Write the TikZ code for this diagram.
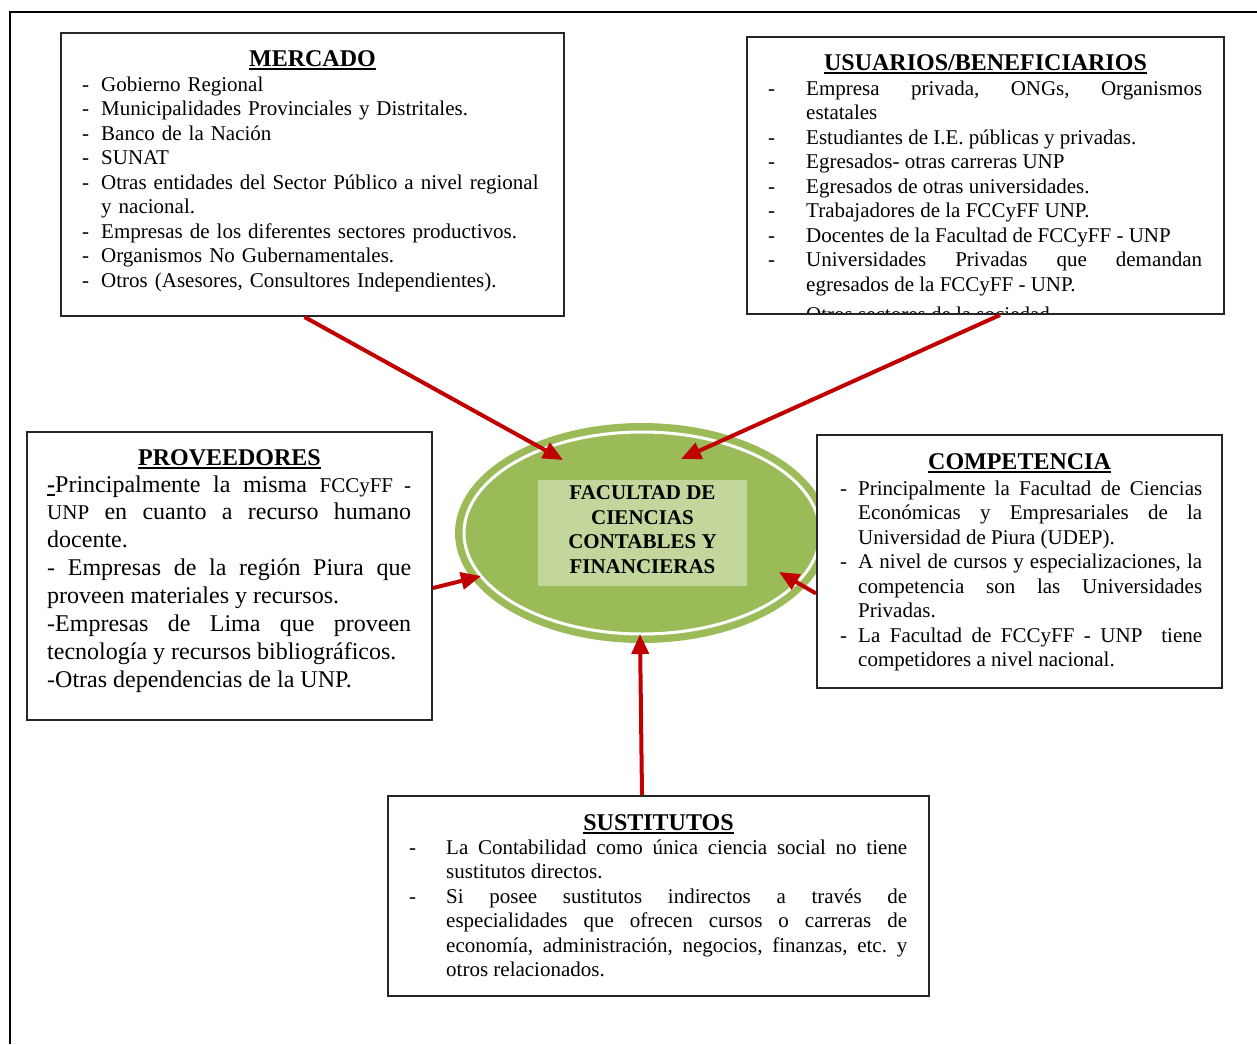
\documentclass[tikz,border=0pt]{standalone}
\usepackage{fontspec}
\setmainfont{Liberation Serif}
\usetikzlibrary{arrows.meta,shapes.geometric}
\definecolor{arrred}{HTML}{C00000}
\definecolor{ellgreen}{HTML}{9BBB59}
\definecolor{lblgreen}{HTML}{C3D69B}
\newcommand\itm[2]{\hangindent=#1\hangafter=1\makebox[#1][l]{-}#2\par}
\newcommand\ttlul[1]{\setbox0\hbox{#1}\rlap{\rule[-4pt]{\wd0}{2pt}}\box0}
\newcommand\bodyfont{\fontsize{21}{24.5}\selectfont\hyphenpenalty=10000\relax\exhyphenpenalty=10000\relax\frenchspacing}
\newcommand\provfont{\fontsize{24}{27.9}\selectfont\hyphenpenalty=10000\relax\exhyphenpenalty=10000\relax\frenchspacing}
\newcommand\smallprov{\fontsize{21}{27.9}\selectfont}
\begin{document}
\begin{tikzpicture}[x=1pt,y=-1pt,
  box/.style={draw=black!85,fill=white,line width=2pt,inner sep=0pt,rectangle},
  ttl/.style={anchor=base,font=\fontsize{24}{28}\selectfont\bfseries,inner sep=0pt},
  lst/.style={anchor=base west,inner sep=0pt,font=\bodyfont},
  arr/.style={draw=arrred,line width=4pt,-{Triangle[length=20pt,width=17pt]}}
]
\useasboundingbox (0,0) rectangle (1257,1044);
% outer frame
\draw[line width=2.5pt] (10,1044) -- (10,12) -- (1257,12);

% central ellipse
\node[ellipse, fill=ellgreen, minimum width=374pt, minimum height=220pt, inner sep=0pt] (fac) at (642,533) {};
\draw[white, line width=3pt] (fac.center) ellipse [x radius=178, y radius=101];
\node[fill=lblgreen, minimum width=209pt, minimum height=106pt, inner sep=0pt] (lblbox) at (642.5,533) {};
\node[font=\fontsize{21}{24.5}\selectfont\bfseries, align=center, inner sep=0pt] (lbl) at (642.5,529.5) {FACULTAD DE\\CIENCIAS\\CONTABLES Y\\FINANCIERAS};

% boxes
\node[box, minimum width=503pt, minimum height=283pt] (mercado) at (312.5,174.5) {};
\node[box, minimum width=477pt, minimum height=277pt] (usuarios) at (985.5,175.5) {};
\node[box, minimum width=405pt, minimum height=288pt] (proveedores) at (229.5,576) {};
\node[box, minimum width=405pt, minimum height=253pt] (competencia) at (1019.5,561.5) {};
\node[box, minimum width=541pt, minimum height=200pt] (sustitutos) at (658.5,896) {};

% titles
\node[ttl] (mercadottl) at (312.5,66) {\ttlul{MERCADO}};
\node[ttl] (usuariosttl) at (985.5,70) {\ttlul{USUARIOS/BENEFICIARIOS}};
\node[ttl] (proveedoresttl) at (229.5,465) {\ttlul{PROVEEDORES}};
\node[ttl] (competenciattl) at (1019.5,469) {\ttlul{COMPETENCIA}};
\node[ttl] (sustitutosttl) at (658.5,830) {\ttlul{SUSTITUTOS}};

% texts
\node[lst, text width=470pt, align=left] (mercadotxt) at (82,91) {%
\itm{19pt}{Gobierno Regional}%
\itm{19pt}{Municipalidades Provinciales y Distritales.}%
\itm{19pt}{Banco de la Nación}%
\itm{19pt}{SUNAT}%
\itm{19pt}{Otras entidades del Sector Público a nivel regional\newline y nacional.}%
\itm{19pt}{Empresas de los diferentes sectores productivos.}%
\itm{19pt}{Organismos No Gubernamentales.}%
\itm{19pt}{Otros (Asesores, Consultores Independientes).}};

\begin{scope}
\clip (748,38) rectangle (1223,312);
\node[lst, text width=434pt, align=justify] (usuariostxt) at (768,95) {%
\itm{38pt}{Empresa privada, ONGs, Organismos\linebreak estatales}%
\itm{38pt}{Estudiantes de I.E. públicas y privadas.}%
\itm{38pt}{Egresados- otras carreras UNP}%
\itm{38pt}{Egresados de otras universidades.}%
\itm{38pt}{Trabajadores de la FCCyFF UNP.}%
\itm{38pt}{Docentes de la Facultad de FCCyFF - UNP}%
\itm{38pt}{Universidades Privadas que demandan\linebreak egresados de la FCCyFF - UNP.}%
\vspace{5.5pt}%
\itm{38pt}{Otros sectores de la sociedad.}};
\end{scope}

\node[anchor=base west, inner sep=0pt, text width=364pt, align=justify, font=\provfont] (proveedorestxt) at (47,492) {%
\ttlul{\textbf{-}}Principalmente la misma {\smallprov FCCyFF -}\linebreak
{\smallprov UNP} en cuanto a recurso humano\linebreak docente.\par
- Empresas de la región Piura que\linebreak proveen materiales y recursos.\par
-Empresas de Lima que proveen\linebreak tecnología y recursos bibliográficos.\par
-Otras dependencias de la UNP.};

\node[lst, text width=362pt, align=justify] (competenciatxt) at (840,495) {%
\itm{18pt}{Principalmente la Facultad de Ciencias\linebreak Económicas y Empresariales de la\linebreak Universidad de Piura (UDEP).}%
\itm{18pt}{A nivel de cursos y especializaciones, la\linebreak competencia son las Universidades\linebreak Privadas.}%
\itm{18pt}{La Facultad de FCCyFF - UNP\ \ tiene\linebreak competidores a nivel nacional.}};

\node[lst, text width=498pt, align=justify] (sustitutostxt) at (409,854) {%
\itm{37pt}{La Contabilidad como única ciencia social no tiene\linebreak sustitutos directos.}%
\itm{37pt}{Si posee sustitutos indirectos a través de\linebreak especialidades que ofrecen cursos o carreras de\linebreak economía, administración, negocios, finanzas, etc. y\linebreak otros relacionados.}};

% arrows
\coordinate (tip1) at (563,460);
\coordinate (tip2) at (681,459);
\coordinate (tip3) at (481,576);
\coordinate (tip4) at (779,572);
\coordinate (tip5) at (640,634);
\draw[arr] ([xshift=-8pt]mercado.south) -- (tip1);
\draw[arr] ([xshift=14.5pt]usuarios.south) -- (tip2);
\draw[arr] ([yshift=-12pt]proveedores.east) -- (tip3);
\draw[arr] ([yshift=-32pt]competencia.west) -- (tip4);
\draw[arr] ([xshift=-16.5pt]sustitutos.north) -- (tip5);
\end{tikzpicture}
\end{document}
